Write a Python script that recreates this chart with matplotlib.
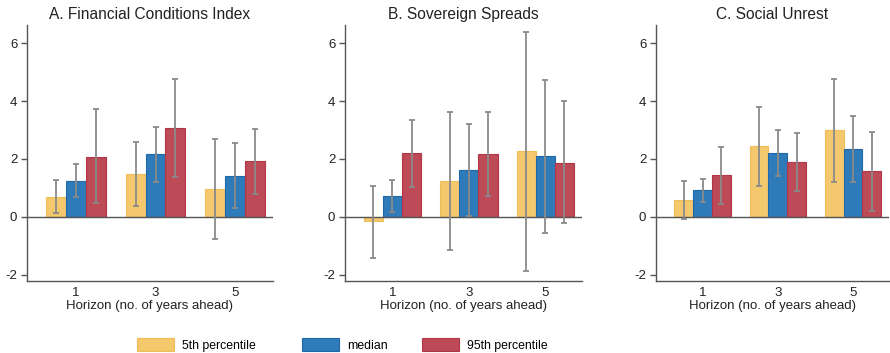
"""Three-panel bar chart: percentiles by horizon with error bars."""
import matplotlib
matplotlib.use("Agg")
import matplotlib.pyplot as plt
from matplotlib.patches import Patch
import numpy as np

plt.rcParams["font.family"] = ["Liberation Sans", "DejaVu Sans"]
plt.rcParams["axes.unicode_minus"] = False

horizons = ["1", "3", "5"]
series = ["5th percentile", "median", "95th percentile"]
titles = ["A. Financial Conditions Index", "B. Sovereign Spreads", "C. Social Unrest"]

# values[panel][series] -> per horizon
fci_vals = [[0.69, 1.47, 0.96], [1.24, 2.17, 1.42], [2.07, 3.08, 1.92]]
fci_lo = [[0.13, 0.39, -0.77], [0.69, 1.20, 0.29], [0.46, 1.39, 0.78]]
fci_hi = [[1.26, 2.57, 2.70], [1.82, 3.12, 2.55], [3.71, 4.76, 3.05]]

spr_vals = [[-0.16, 1.23, 2.26], [0.73, 1.62, 2.09], [2.20, 2.18, 1.87]]
spr_lo = [[-1.42, -1.15, -1.87], [0.17, 0.02, -0.55], [1.04, 0.73, -0.23]]
spr_hi = [[1.08, 3.61, 6.39], [1.27, 3.21, 4.72], [3.36, 3.63, 3.99]]

unr_vals = [[0.59, 2.43, 3.00], [0.91, 2.19, 2.33], [1.43, 1.89, 1.57]]
unr_lo = [[-0.08, 1.07, 1.21], [0.51, 1.41, 1.19], [0.45, 0.88, 0.21]]
unr_hi = [[1.24, 3.81, 4.75], [1.31, 3.01, 3.48], [2.41, 2.91, 2.93]]

panels = [(fci_vals, fci_lo, fci_hi), (spr_vals, spr_lo, spr_hi), (unr_vals, unr_lo, unr_hi)]

fills = ["#F4C86C", "#2F7BBA", "#BC4A57"]
edges = ["#F0BE58", "#1F68A8", "#B23645"]
err_color = "#8A8A8A"
axis_color = "#555555"

W, H = 890, 353
fig = plt.figure(figsize=(W / 100, H / 100), dpi=100)

# axes boxes in pixels: (left, right)
boxes = [(27, 273), (345, 582), (656, 889)]
top_px, bot_px = 25, 281

x = np.arange(len(horizons))
bw = 0.25
for ax_i, ((vals, lo, hi), (l, r)) in enumerate(zip(panels, boxes)):
    ax = fig.add_axes([l / W, 1 - bot_px / H, (r - l) / W, (bot_px - top_px) / H])
    for s in range(3):
        xs = x + (s - 1) * bw
        v = np.array(vals[s])
        ax.bar(xs, v, width=bw, color=fills[s], edgecolor=edges[s], linewidth=0.8,
               zorder=2)
        yerr = [v - np.array(lo[s]), np.array(hi[s]) - v]
        ax.errorbar(xs, v, yerr=yerr, fmt="none", ecolor=err_color, elinewidth=1.3,
                    capsize=2, capthick=1.3, zorder=3)
    ax.axhline(0, color=axis_color, linewidth=1.0, zorder=2.5)
    ax.set_xlim(-0.62, 2.48)
    ax.set_ylim(-2.22, 6.63)
    ax.set_yticks([-2, 0, 2, 4, 6])
    ax.set_xticks(x)
    ax.set_xticklabels(horizons)
    ax.tick_params(axis="y", length=4, width=1, color=axis_color, labelsize=9.5,
                   pad=3, labelcolor="#222222")
    ax.tick_params(axis="x", length=0, pad=4, labelsize=9.5, labelcolor="#222222")
    for side in ["top", "right"]:
        ax.spines[side].set_visible(False)
    for side in ["left", "bottom"]:
        ax.spines[side].set_color(axis_color)
        ax.spines[side].set_linewidth(1.0)
    ax.set_xlabel("Horizon (no. of years ahead)", fontsize=9.5, labelpad=1,
                  color="#222222")
    ax.set_title(titles[ax_i], fontsize=11.2, pad=4, color="#222222")

# legend entries placed along the bottom
leg_x = [137, 302, 422]
for s in range(3):
    h = Patch(facecolor=fills[s], edgecolor=edges[s], linewidth=0.8)
    fig.legend([h], [series[s]], loc="center left",
               bbox_to_anchor=(leg_x[s] / W, 1 - 345 / H), frameon=False,
               fontsize=8.8, handlelength=3.0, handleheight=1.2,
               handletextpad=0.7, borderaxespad=0, borderpad=0)

fig.savefig("out.png", dpi=100, facecolor="white")
